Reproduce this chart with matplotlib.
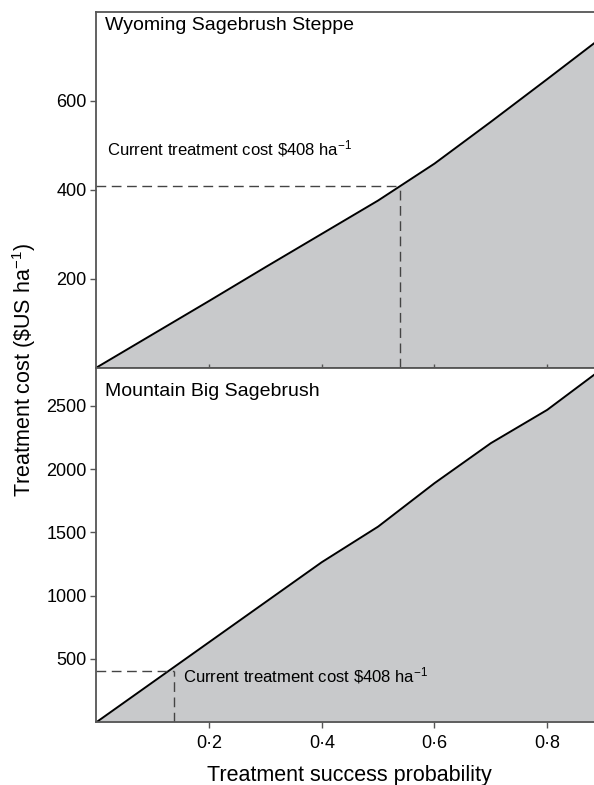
import numpy as np
import matplotlib
matplotlib.use("Agg")
import matplotlib.pyplot as plt

plt.rcParams['font.family'] = ['Liberation Sans', 'DejaVu Sans']
plt.rcParams['mathtext.fontset'] = 'custom'
plt.rcParams['mathtext.rm'] = 'Liberation Sans'
plt.rcParams['mathtext.default'] = 'regular'

# treatment success probability
prob = [0.0, 0.1, 0.2, 0.3, 0.4, 0.5, 0.6, 0.7, 0.8, 0.9]
# cost curves ($US / ha)
cost_wyoming = [0, 75, 150, 226, 301, 376, 459, 553, 649, 746]
cost_mountain = [0, 316, 632, 948, 1264, 1545, 1888, 2204, 2467, 2800]

current_cost = 408
# success probability where the curve crosses the current cost
cross_wyoming = 0.539
cross_mountain = 0.138

panel_titles = ["Wyoming Sagebrush Steppe", "Mountain Big Sagebrush"]
xticks = [0.2, 0.4, 0.6, 0.8]
xtick_labels = ["0\u00b72", "0\u00b74", "0\u00b76", "0\u00b78"]
yticks_top = [200, 400, 600]
yticks_bottom = [500, 1000, 1500, 2000, 2500]

fill_col = "#c8c9cb"
spine_col = "#555555"
dash_col = "#444444"
dash = (0, (7, 4))
note = r"Current treatment cost \$408 ha$^{-1}$"

fig = plt.figure(figsize=(5.94, 7.85), dpi=100)
ax1 = fig.add_axes([0.1621, 0.5316, 0.8379, 0.4531])
ax2 = fig.add_axes([0.1621, 0.0799, 0.8379, 0.4517])

for ax, cost, ylim, yt in [(ax1, cost_wyoming, 800, yticks_top),
                           (ax2, cost_mountain, 2800, yticks_bottom)]:
    ax.fill_between(prob, cost, 0, color=fill_col, lw=0)
    ax.plot(prob, cost, color="black", lw=1.4)
    ax.set_xlim(0, 0.883)
    ax.set_ylim(0, ylim)
    ax.set_yticks(yt)
    ax.set_xticks(xticks)
    ax.spines['right'].set_visible(False)
    for s in ['left', 'top', 'bottom']:
        ax.spines[s].set_color(spine_col)
        ax.spines[s].set_linewidth(1.3)
    ax.tick_params(axis='y', direction='out', length=4, width=1, color=spine_col,
                   labelsize=13, pad=3)

# top panel: inward ticks on bottom, no labels
ax1.tick_params(axis='x', direction='in', length=3, width=1, color=spine_col,
                labelbottom=False)
ax2.tick_params(axis='x', direction='out', length=4, width=1, color=spine_col,
                labelsize=13, pad=5)
ax2.set_xticklabels(xtick_labels)

# current cost guide lines
ax1.plot([0, cross_wyoming], [current_cost, current_cost], ls=dash,
         color=dash_col, lw=1)
ax1.plot([cross_wyoming, cross_wyoming], [0, current_cost], ls=dash,
         color=dash_col, lw=1)
ax2.plot([0, cross_mountain], [current_cost, current_cost], ls=dash,
         color=dash_col, lw=1)
ax2.plot([cross_mountain, cross_mountain], [0, current_cost], ls=dash,
         color=dash_col, lw=1)

ax1.text(0.019, 493, note, fontsize=12, va='center', ha='left')
ax2.text(0.153, 366, note, fontsize=12, va='center', ha='left')

ax1.text(0.016, 770, panel_titles[0], fontsize=14, va='center', ha='left')
ax2.text(0.016, 2615, panel_titles[1], fontsize=14, va='center', ha='left')

fig.text(0.04, 0.529, r"Treatment cost (\$US ha$^{-1}$)", rotation=90,
         fontsize=15.5, va='center', ha='center')
fig.text(0.589, 0.0127, "Treatment success probability", fontsize=15.5,
         va='center', ha='center')

fig.savefig("out.png", dpi=100)
